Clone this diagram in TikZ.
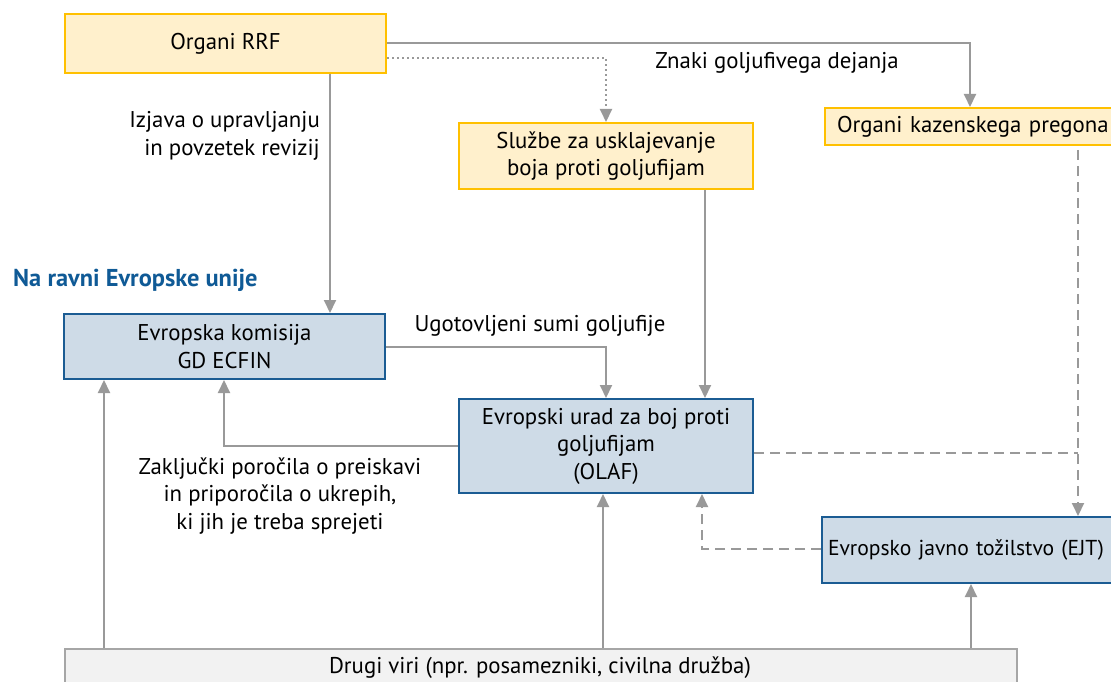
\documentclass[tikz,border=0pt]{standalone}
\usepackage{fontspec}
\setmainfont{PT Sans}
\usetikzlibrary{arrows.meta,calc}
\definecolor{yfill}{HTML}{FFF0CC}
\definecolor{ydraw}{HTML}{FFC000}
\definecolor{bfill}{HTML}{CEDBE7}
\definecolor{bdraw}{HTML}{1B5C93}
\definecolor{gfill}{HTML}{F2F2F2}
\definecolor{gdraw}{HTML}{A6A6A6}
\definecolor{lcol}{HTML}{999999}
\definecolor{ttl}{HTML}{0F5A96}
\tikzset{
  base/.style={font=\fontsize{22.8}{27.5}\selectfont, inner sep=0pt, line width=2pt, align=center},
  ybox/.style={base, rectangle, fill=yfill, draw=ydraw, anchor=north west},
  bbox/.style={base, rectangle, fill=bfill, draw=bdraw, anchor=north west},
  gbox/.style={base, rectangle, fill=gfill, draw=gdraw, anchor=north west},
  lbl/.style={font=\fontsize{22.8}{27.5}\selectfont, inner sep=0pt, align=center},
  conn/.style={draw=lcol, line width=2pt},
  arr/.style={conn, -{Triangle[length=13pt,width=12pt]}},
  dsh/.style={conn, dash pattern=on 10pt off 6pt},
  dot/.style={conn, dash pattern=on 2pt off 3pt},
}
\begin{document}
\begin{tikzpicture}[x=1pt,y=-1pt]
\useasboundingbox (0,0) rectangle (1111,682);
\clip (0,0) rectangle (1111,682);
\fill[white] (0,0) rectangle (1111,682);
% nodes
\node[ybox, minimum width=321pt, minimum height=59pt] (rrf) at (64,13) {Organi RRF};
\node[ybox, minimum width=294pt, minimum height=66pt] (sl) at (458,122) {Službe za usklajevanje\\boja proti goljufijam};
\node[ybox, minimum width=330pt, minimum height=37pt, text width=320pt, align=left] (kaz) at (824,107) {\hspace*{7pt}Organi kazenskega pregona};
\node[bbox, minimum width=321pt, minimum height=65pt] (ek) at (63,313) {Evropska komisija\\GD ECFIN};
\node[bbox, minimum width=294pt, minimum height=94pt] (olaf) at (458,398) {Evropski urad za boj proti\\goljufijam\\(OLAF)};
\node[bbox, minimum width=330pt, minimum height=66pt, text width=320pt, align=left, font=\fontsize{21.6}{26}\selectfont] (ejt) at (821,516) {\hspace*{1pt}Evropsko javno tožilstvo (EJT)};
\node[gbox, minimum width=952pt, minimum height=50pt] (dr) at (64,648) {};
\node[font=\fontsize{22.8}{27}\selectfont, inner sep=0pt] (drt) at (540,668) {Drugi viri (npr. posamezniki, civilna družba)};
% labels
\node[font=\bfseries\fontsize{24.4}{28}\selectfont, text=ttl, inner sep=0pt, anchor=west] (eu) at (13,280) {Na ravni Evropske unije};
\node[lbl] (l1) at (777,63) {Znaki goljufivega dejanja};
\node[lbl, align=right, anchor=east] (l2) at (320,136) {Izjava o upravljanju\\in povzetek revizij};
\node[lbl] (l3) at (540,326) {Ugotovljeni sumi goljufije};
\node[lbl] (l4) at (280,496) {Zaključki poročila o preiskavi\\in priporočila o ukrepih,\\ki jih je treba sprejeti};
% helper coordinates
\coordinate (x970) at (970,0);
\coordinate (x330) at (330,0);
\coordinate (x705) at (705,0);
\coordinate (x224) at (224,0);
\coordinate (x104) at (104,0);
\coordinate (x603) at (603,0);
\coordinate (x971) at (971,0);
\coordinate (x702) at (702,0);
\coordinate (x1078) at (1078,0);
\coordinate (j) at (1078,453);
% connectors
\draw[arr] (rrf.east) -| (kaz.north -| x970);
\draw[dot, -{Triangle[length=13pt,width=12pt]}] ($(rrf.east)+(0,15)$) -| (sl.north);
\draw[arr] (rrf.south -| x330) -- (ek.north -| x330);
\draw[arr] (sl.south -| x705) -- (olaf.north -| x705);
\draw[arr] (ek.east) -| (olaf.north);
\draw[arr] (olaf.west) -| (ek.south -| x224);
\draw[arr] (dr.north -| x104) -- (ek.south -| x104);
\draw[arr] (dr.north -| x603) -- (olaf.south -| x603);
\draw[arr] (dr.north -| x971) -- (ejt.south -| x971);
\draw[dsh] (olaf.east |- j) -- (j);
\draw[dsh, -{Triangle[length=13pt,width=12pt]}] ($(kaz.south -| x1078)+(0,4)$) -- (ejt.north -| x1078);
\draw[dsh, -{Triangle[length=13pt,width=12pt]}] (ejt.west |- 0,549) -| (olaf.south -| x702);
\end{tikzpicture}
\end{document}
